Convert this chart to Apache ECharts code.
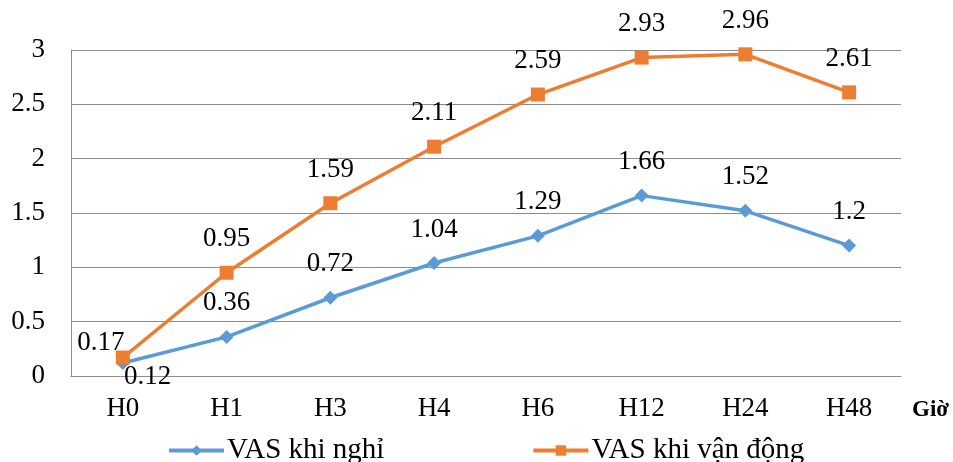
<!DOCTYPE html>
<html>
<head>
<meta charset="utf-8">
<script src="https://cdn.jsdelivr.net/npm/echarts@6/dist/echarts.min.js"></script>
<style>
  html, body { margin: 0; padding: 0; background: #fff; }
  #chart { width: 953px; height: 462px; }
</style>
</head>
<body>
<div id="chart"></div>
<script>
const categories = ['H0', 'H1', 'H3', 'H4', 'H6', 'H12', 'H24', 'H48']
const vasRest = [0.12, 0.36, 0.72, 1.04, 1.29, 1.66, 1.52, 1.2]
const vasMove = [0.17, 0.95, 1.59, 2.11, 2.59, 2.93, 2.96, 2.61]
const seriesNames = ['VAS khi nghỉ', 'VAS khi vận động']
const axisName = 'Giờ'

const font = '"Liberation Serif", "Times New Roman", serif'
const chart = echarts.init(document.getElementById('chart'))

const labelStyle = {
  show: true,
  position: 'top',
  distance: 13,
  fontFamily: font,
  fontSize: 27,
  color: '#000'
}

const option = {
  animation: false,
  textStyle: { fontFamily: font },
  grid: { left: 71, right: 52, top: 50, bottom: 86 },
  legend: {
    data: seriesNames,
    left: 167,
    top: 436,
    padding: 0,
    itemWidth: 55,
    itemHeight: 13,
    itemGap: 147,
    lineStyle: { width: 4 },
    textStyle: { fontFamily: font, fontSize: 29, color: '#000', padding: [0, 0, 0, -2] }
  },
  xAxis: {
    type: 'category',
    data: categories,
    boundaryGap: true,
    name: axisName,
    nameLocation: 'end',
    nameGap: 11,
    nameTextStyle: {
      fontFamily: font, fontSize: 23, fontWeight: 'bold', color: '#000',
      verticalAlign: 'top', padding: [23, 0, 0, 0]
    },
    axisLine: { lineStyle: { color: '#8c8c8c', width: 1 } },
    axisTick: { show: false },
    axisLabel: { fontFamily: font, fontSize: 27, color: '#000', margin: 19 }
  },
  yAxis: {
    type: 'value',
    min: 0,
    max: 3,
    interval: 0.5,
    axisLine: { show: true, lineStyle: { color: '#8c8c8c', width: 1 } },
    axisTick: { show: false },
    axisLabel: { fontFamily: font, fontSize: 27, color: '#000', margin: 26 },
    splitLine: { lineStyle: { color: '#8c8c8c', width: 1 } }
  },
  series: [
    {
      name: seriesNames[0],
      type: 'line',
      // first resting value sits under its marker, to the right
      data: vasRest.map((v, i) => i === 0
        ? { value: v, label: { position: [8, 7] } }
        : v),
      symbol: 'diamond',
      symbolSize: 14,
      lineStyle: { color: '#5B9BD5', width: 3.5 },
      itemStyle: { color: '#5B9BD5' },
      label: labelStyle,
      z: 2
    },
    {
      name: seriesNames[1],
      type: 'line',
      data: vasMove.map((v, i) => i === 0
        ? { value: v, label: { position: 'top', offset: [-22, 19] } }
        : v),
      symbol: 'rect',
      symbolSize: 14,
      lineStyle: { color: '#ED7D31', width: 3.5 },
      itemStyle: { color: '#ED7D31' },
      label: labelStyle,
      z: 3
    }
  ]
}

chart.setOption(option)
</script>
</body>
</html>
